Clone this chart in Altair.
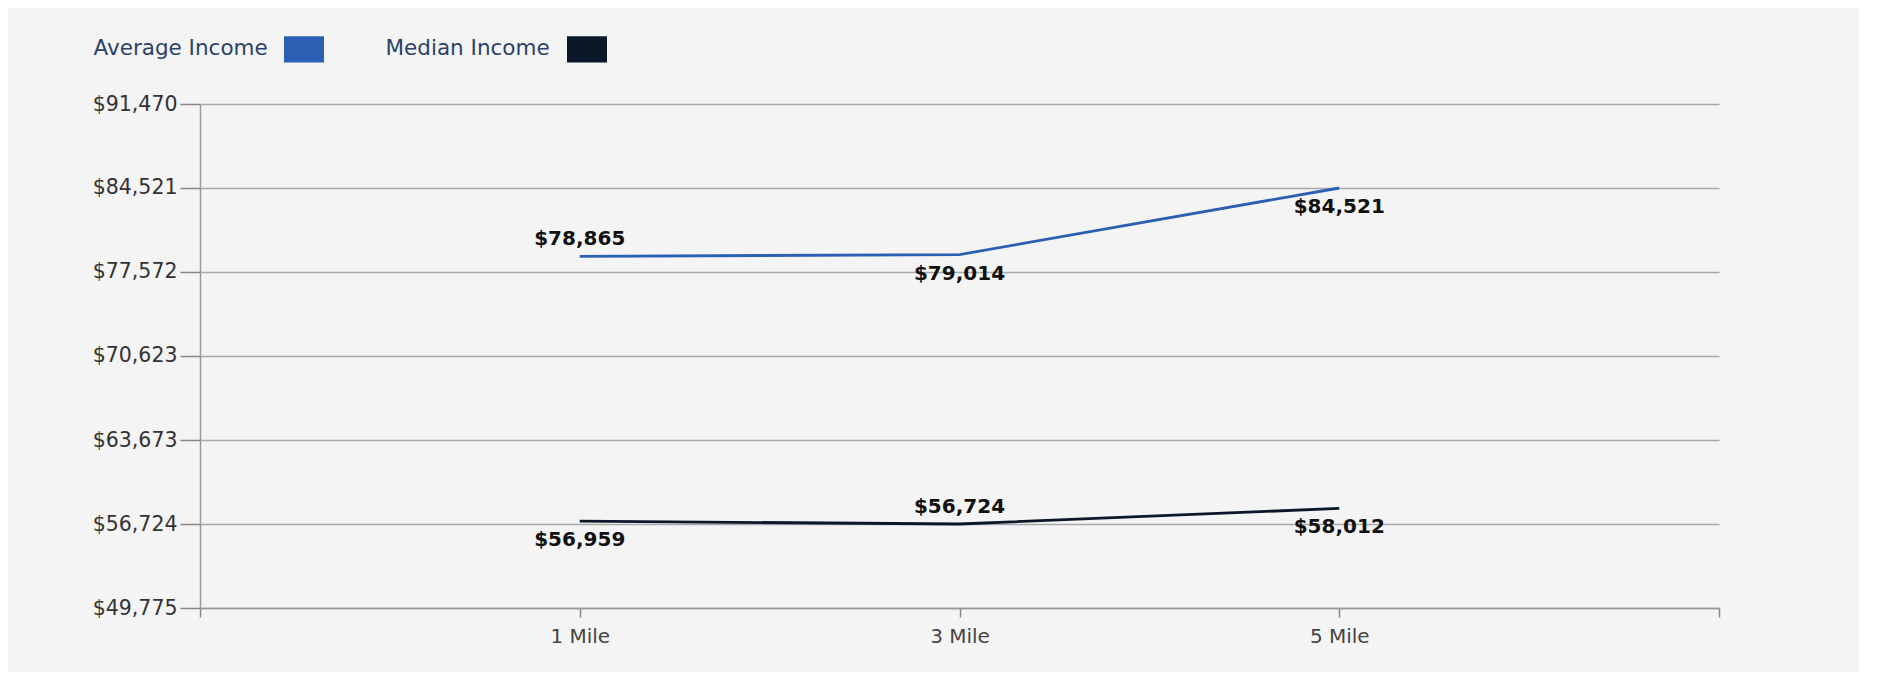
import altair as alt
import pandas as pd

categories = ["1 Mile", "3 Mile", "5 Mile"]
series_names = ["Average Income", "Median Income"]
average_income = [78865, 79014, 84521]
median_income = [56959, 56724, 58012]
average_label_above = [True, False, False]
median_label_above = [False, True, False]
y_ticks = [49775, 56724, 63673, 70623, 77572, 84521, 91470]
series_colors = ["#2b5fb3", "#0a1829"]

rows = []
for name, vals, above in [
    (series_names[0], average_income, average_label_above),
    (series_names[1], median_income, median_label_above),
]:
    for i, (c, v, a) in enumerate(zip(categories, vals, above)):
        rows.append({"series": name, "category": c, "pos": i + 1, "value": v, "above": a})
df = pd.DataFrame(rows)

# label expression for the x axis built from the category list
expr = "''"
for i, c in reversed(list(enumerate(categories))):
    expr = f"datum.value == {i + 1} ? '{c}' : ({expr})"

FONT = "DejaVu Sans"

x_enc = alt.X(
    "pos:Q",
    scale=alt.Scale(domain=[0, len(categories) + 1], nice=False, zero=False),
    axis=alt.Axis(
        values=list(range(0, len(categories) + 2)),
        labelExpr=expr,
        grid=False,
        title=None,
        tickSize=9,
        tickColor="#888888",
        tickWidth=1.5,
        domainColor="#999999",
        domainWidth=1.5,
        labelPadding=9,
        labelFont=FONT,
        labelFontSize=20,
        labelColor="#444444",
        labelFlush=False,
    ),
)
y_enc = alt.Y(
    "value:Q",
    scale=alt.Scale(domain=[y_ticks[0], y_ticks[-1]], nice=False, zero=False),
    axis=alt.Axis(
        values=y_ticks,
        format="$,.0f",
        title=None,
        tickSize=20,
        tickColor="#888888",
        tickWidth=1.5,
        domainColor="#999999",
        domainWidth=1.5,
        gridColor="#a8a8a8",
        gridWidth=1.5,
        labelPadding=3,
        labelFont=FONT,
        labelFontSize=20.5,
        labelColor="#333333",
    ),
)

base = alt.Chart(df)

lines = base.mark_line(strokeWidth=2.8).encode(
    x=x_enc,
    y=y_enc,
    color=alt.Color(
        "series:N",
        scale=alt.Scale(domain=series_names, range=series_colors),
        legend=alt.Legend(
            orient="none",
            legendX=-128,
            legendY=-66,
            direction="horizontal",
            title=None,
            padding=0,
            symbolSize=1,
            symbolOpacity=0,
            symbolStrokeWidth=0,
            labelOffset=0,
            labelLimit=400,
            columnPadding=96,
            labelFont=FONT,
            labelFontSize=21.5,
            labelColor="#2c4266",
        ),
    ),
    detail="series:N",
)

swatches = base.mark_point(filled=True, opacity=0, size=1).encode(
    x="pos:Q",
    y="value:Q",
    fill=alt.Fill(
        "series:N",
        scale=alt.Scale(domain=series_names, range=series_colors),
        legend=alt.Legend(
            orient="none",
            legendX=84,
            legendY=-75,
            direction="horizontal",
            title=None,
            padding=0,
            symbolType="M-1,-0.66H1V0.66H-1Z",
            symbolSize=1600,
            symbolOpacity=1,
            symbolStrokeWidth=0,
            labelExpr="''",
            labelOffset=0,
            columnPadding=243,
        ),
    ),
)

text_style = dict(font=FONT, fontWeight="bold", fontSize=20, color="#111111", baseline="middle")
labels_above = base.transform_filter("datum.above").mark_text(dy=-17, **text_style).encode(
    x="pos:Q", y="value:Q", text=alt.Text("value:Q", format="$,.0f")
)
labels_below = base.transform_filter("!datum.above").mark_text(dy=19, **text_style).encode(
    x="pos:Q", y="value:Q", text=alt.Text("value:Q", format="$,.0f")
)

chart = (
    alt.layer(lines, swatches, labels_above, labels_below)
    .resolve_scale(color="independent", fill="independent")
    .properties(
        width=1519,
        height=504,
        autosize=alt.AutoSizeParams(type="none"),
        padding={"left": 192, "top": 96, "right": 140, "bottom": 64},
        background="#f4f4f4",
    )
    .configure_view(stroke=None)
)

chart.save("out.html", embed_options={"renderer": "svg", "actions": False})
